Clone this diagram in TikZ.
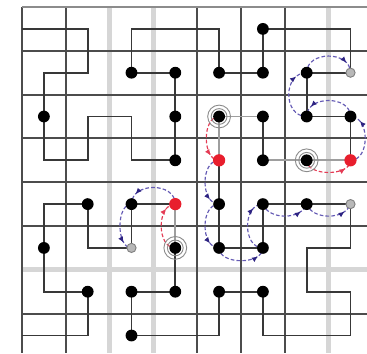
\documentclass[tikz,border=0pt]{standalone}
\usetikzlibrary{decorations.markings,arrows.meta}
\definecolor{arcblue}{RGB}{100,90,180}
\definecolor{arrowblue}{RGB}{45,35,130}
\definecolor{arcred}{RGB}{228,60,85}
\definecolor{dotred}{RGB}{232,30,45}
\begin{document}
\begin{tikzpicture}[x=1cm,y=1cm,
  gridline/.style={line width=1.2pt, draw=black!70},
  lightgrid/.style={line width=3.2pt, draw=black!16},
  topgrid/.style={line width=1.2pt, draw=black!45},
  pathline/.style={line width=1.2pt, draw=black!78, line join=miter},
  lightpath/.style={line width=1.2pt, draw=black!38},
  dot/.style={circle, fill=black, inner sep=0pt, minimum size=0.27cm},
  reddot/.style={circle, fill=dotred, inner sep=0pt, minimum size=0.28cm},
  graydot/.style={circle, fill=black!28, draw=black!50, line width=0.6pt, inner sep=0pt, minimum size=0.21cm},
  ring/.style={circle, draw=black!45, line width=0.6pt, inner sep=0pt, fill=none},
  arcbase/.style={line width=0.75pt, dash pattern=on 2.4pt off 1.4pt},
  bluearc/.style={arcbase, draw=arcblue, postaction={decorate}, decoration={markings, mark=at position 0.82 with {\arrow{Latex[length=4pt,width=3.4pt,color=arrowblue]}}}},
  redarc/.style={arcbase, draw=arcred, postaction={decorate}, decoration={markings, mark=at position 0.82 with {\arrow{Latex[length=4pt,width=3.4pt,color=arcred]}}}}
]
\useasboundingbox (-0.502,0.16) rectangle (7.877,-7.90);
% grid
\foreach \gx in {2,3,7} \draw[lightgrid] (\gx,0) -- (\gx,-7.9);
\draw[lightgrid] (0,-6) -- (7.877,-6);
\foreach \gx in {0,1,4,5,6} \draw[gridline] (\gx,0) -- (\gx,-7.9);
\foreach \gy in {1,2,3,4,5,7} \draw[gridline] (0,-\gy) -- (7.877,-\gy);
\draw[topgrid] (0,0) -- (7.877,0);
% cell centres
\foreach \i in {0,...,7} \foreach \j in {0,...,7} \coordinate (c-\i-\j) at (\i+0.5,-\j-0.5);
\coordinate (e-start) at (0,-0.5);
\coordinate (e-end) at (0,-7.5);
% path
\draw[pathline] (e-start) -- (c-1-0) -- (c-1-1) -- (c-0-1) -- (c-0-3) -- (c-1-3) -- (c-1-2) -- (c-2-2) -- (c-2-3) -- (c-3-3) -- (c-3-1) -- (c-2-1) -- (c-2-0) -- (c-4-0) -- (c-4-1) -- (c-5-1) -- (c-5-0) -- (c-7-0) -- (c-7-1) -- (c-6-1) -- (c-6-2) -- (c-7-2) -- (c-7-3);
\draw[lightpath] (c-7-3) -- (c-5-3);
\draw[pathline] (c-5-3) -- (c-5-2);
\draw[lightpath] (c-5-2) -- (c-4-2) -- (c-4-3);
\draw[pathline] (c-4-3) -- (c-4-5) -- (c-5-5) -- (c-5-4) -- (c-7-4) -- (c-7-5) -- (c-6-5) -- (c-6-6) -- (c-7-6) -- (c-7-7) -- (c-5-7) -- (c-5-6) -- (c-4-6) -- (c-4-7) -- (c-2-7) -- (c-2-6) -- (c-3-6) -- (c-3-5);
\draw[lightpath] (c-3-5) -- (c-3-4);
\draw[pathline] (c-3-4) -- (c-2-4) -- (c-2-5) -- (c-1-5) -- (c-1-4) -- (c-0-4) -- (c-0-6) -- (c-1-6) -- (c-1-7) -- (e-end);
% arcs region 1
\draw[redarc] (c-6-3) to[bend right=90, looseness=0.95] (c-7-3);
\draw[bluearc] (c-7-3) to[bend right=90, looseness=1.15] (c-7-2);
\draw[bluearc] (c-7-2) to[bend right=90, looseness=1.25] (c-6-2);
\draw[bluearc] (c-6-2) to[bend left=90, looseness=1.4] (c-6-1);
\draw[bluearc] (c-6-1) to[bend left=90, looseness=1.3] (c-7-1);
% arcs region 2
\draw[redarc] (c-4-2) to[bend right=90, looseness=1.0] (c-4-3);
\draw[bluearc] (c-4-3) to[bend right=90, looseness=1.1] (c-4-4);
\draw[bluearc] (c-4-4) to[bend right=90, looseness=1.1] (c-4-5);
\draw[bluearc] (c-4-5) to[bend right=90, looseness=1.0] (c-5-5);
\draw[bluearc] (c-5-5) to[bend left=90, looseness=1.2] (c-5-4);
\draw[bluearc] (c-5-4) to[bend right=70, looseness=1.0] (c-6-4);
\draw[bluearc] (c-6-4) to[bend right=70, looseness=1.0] (c-7-4);
% arcs region 3
\draw[redarc] (c-3-5) to[bend left=90, looseness=1.1] (c-3-4);
\draw[bluearc] (c-3-4) to[bend right=90, looseness=1.3] (c-2-4);
\draw[bluearc] (c-2-4) to[bend right=90, looseness=0.9] (c-2-5);
% dots
\foreach \i/\j in {0/2,3/3,3/2,3/1,2/1,4/1,5/1,5/0,6/1,6/2,7/2,5/2,5/3,4/4,4/5,5/5,5/4,6/4,5/6,4/6,2/7,2/6,3/6,2/4,1/4,0/5,1/6}
  \node[dot] (d-\i-\j) at (c-\i-\j) {};
\foreach \i/\j in {4/2,6/3,3/5} {
  \node[ring, minimum size=0.52cm] (ro-\i-\j) at (c-\i-\j) {};
  \node[ring, minimum size=0.36cm] (ri-\i-\j) at (c-\i-\j) {};
  \node[dot] (d-\i-\j) at (c-\i-\j) {};
}
\foreach \i/\j in {7/3,4/3,3/4} \node[reddot] (r-\i-\j) at (c-\i-\j) {};
\foreach \i/\j in {7/1,7/4,2/5} \node[graydot] (g-\i-\j) at (c-\i-\j) {};
\end{tikzpicture}
\end{document}
